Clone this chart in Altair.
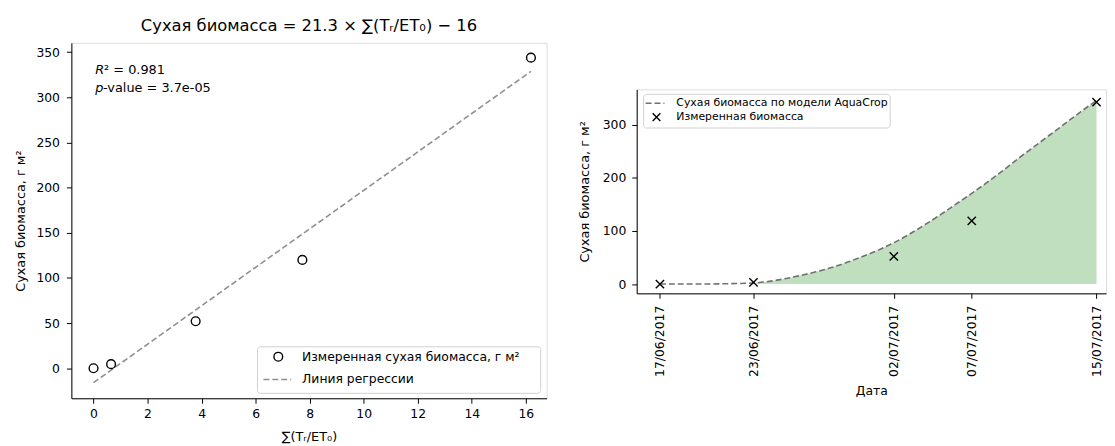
import altair as alt
import pandas as pd

FONT = "DejaVu Sans"

# ---------------- Left panel data ----------------
meas_x = [0.0, 0.65, 3.78, 7.73, 16.19]
meas_y = [0.0, 4.5, 52.0, 120.0, 344.0]
reg_x = [0.0, 16.19]
reg_y = [-16.0, 328.8]
left_xticks = [0, 2, 4, 6, 8, 10, 12, 14, 16]
left_yticks = [0, 50, 100, 150, 200, 250, 300, 350]
left_legend_labels = ["Измеренная сухая биомасса, г м²", "Линия регрессии"]

# ---------------- Right panel data ----------------
meas_dates = ["2017-06-17", "2017-06-23", "2017-07-02", "2017-07-07", "2017-07-15"]
meas_bio = [0.0, 3.0, 52.0, 119.0, 343.0]
model_dates = ["2017-06-17", "2017-06-19", "2017-06-21", "2017-06-23", "2017-06-24",
               "2017-06-25", "2017-06-26", "2017-06-27", "2017-06-28", "2017-06-29",
               "2017-06-30", "2017-07-01", "2017-07-02", "2017-07-03", "2017-07-04",
               "2017-07-05", "2017-07-06", "2017-07-07", "2017-07-08", "2017-07-09",
               "2017-07-10", "2017-07-11", "2017-07-12", "2017-07-13", "2017-07-14",
               "2017-07-15"]
model_bio = [0.0, 0.0, 0.5, 2.0, 5.0, 10.0, 16.0, 23.0, 31.0, 41.0, 52.0, 64.0, 78.0,
             94.0, 112.0, 131.0, 151.0, 171.0, 192.0, 214.0, 237.0, 259.0, 281.0,
             303.0, 325.0, 346.0]
fill_start = "2017-06-23"
right_yticks = [0, 100, 200, 300]
right_legend_labels = ["Сухая биомасса по модели AquaCrop", "Измеренная биомасса"]

ax_common = dict(grid=False, domainColor="black", tickColor="black", labelColor="black",
                 titleColor="black", labelFont=FONT, titleFont=FONT,
                 titleFontWeight="normal", tickSize=5)
one = pd.DataFrame({"k": [0]})
XSHAPE = "M-1,-1L1,1M-1,1L1,-1"

# ---------------- Left panel ----------------
LW, LH = 480, 359
meas_df = pd.DataFrame({"x": meas_x, "y": meas_y})
reg_df = pd.DataFrame({"x": reg_x, "y": reg_y})

xs = alt.Scale(domain=[-0.82, 16.77], nice=False, zero=False)
ys = alt.Scale(domain=[-33.3, 360.4], nice=False, zero=False)

x_left = alt.X("x:Q", scale=xs,
               axis=alt.Axis(values=left_xticks, title="∑(Tᵣ/ET₀)", labelFontSize=12.5,
                             titleFontSize=13, labelPadding=4, titlePadding=11, **ax_common))
y_left = alt.Y("y:Q", scale=ys,
               axis=alt.Axis(values=left_yticks, title="Сухая биомасса, г м²", labelFontSize=12.5,
                             titleFontSize=13, labelPadding=7, titlePadding=8, **ax_common))

reg_line = alt.Chart(reg_df).mark_line(color="#8f8f8f", strokeDash=[6, 3], strokeWidth=1.6).encode(
    x=x_left, y=y_left)
pts = alt.Chart(meas_df).mark_point(shape="circle", filled=False, color="black", size=78,
                                    strokeWidth=1.4, opacity=1).encode(x="x:Q", y="y:Q")


def txt(s, x, y, size, italic=False):
    kw = dict(font=FONT, fontSize=size, align="left", baseline="middle", color="black")
    if italic:
        kw["fontStyle"] = "italic"
    return alt.Chart(pd.DataFrame({"label": [s]})).mark_text(**kw).encode(
        text="label:N", x=alt.value(x), y=alt.value(y))


ann = [txt("R", 24, 27, 13, True), txt("² = 0.981", 33, 27, 13),
       txt("p", 24, 46, 13, True), txt("-value = 3.7e-05", 32, 46, 13)]

leg_box = alt.Chart(one).mark_rect(fill="white", fillOpacity=0.8, stroke="#d0d0d0",
                                   strokeWidth=1, cornerRadius=3).encode(
    x=alt.value(188), x2=alt.value(474), y=alt.value(307), y2=alt.value(354))
leg_pt = alt.Chart(one).mark_point(shape="circle", filled=False, color="black", size=78,
                                   strokeWidth=1.4, opacity=1).encode(
    x=alt.value(209), y=alt.value(317))
leg_ln = alt.Chart(one).mark_rule(color="#8f8f8f", strokeDash=[6, 3], strokeWidth=1.6).encode(
    x=alt.value(194), x2=alt.value(222), y=alt.value(340))
leg_t1 = txt(left_legend_labels[0], 233, 317, 12.5)
leg_t2 = txt(left_legend_labels[1], 233, 340, 12.5)

left = alt.layer(reg_line, pts, *ann, leg_box, leg_pt, leg_ln, leg_t1, leg_t2).properties(
    width=LW, height=LH,
    title=alt.Title("Сухая биомасса = 21.3 × ∑(Tᵣ/ET₀) − 16", font=FONT, fontSize=16.5,
                    fontWeight="normal", color="black", anchor="middle", offset=8))

# ---------------- Right panel ----------------
RW, RH = 474, 206
model_df = pd.DataFrame({"date": model_dates, "bio": model_bio})
fill_df = model_df[model_df["date"] >= fill_start]
mdf = pd.DataFrame({"date": meas_dates, "bio": meas_bio})


def dt(s, h=0, m=0):
    y, mo, d = [int(v) for v in s.split("-")]
    return alt.DateTime(year=y, month=mo, date=d, hours=h, minutes=m, utc=True)


ts = alt.Scale(type="utc", domain=[dt("2017-06-15", 12, 14), dt("2017-07-15", 14, 38)], nice=False)
ry = alt.Scale(domain=[-17.5, 367], nice=False, zero=False)

x_right = alt.X("date:T", scale=ts,
                axis=alt.Axis(values=[dt(s) for s in meas_dates],
                              labelExpr="utcFormat(datum.value, '%d/%m/%Y')",
                              labelAngle=270, labelFontSize=12.5,
                              title="Дата", titleFontSize=12.5, labelPadding=7,
                              titlePadding=8, **ax_common))
y_right = alt.Y("bio:Q", scale=ry,
                axis=alt.Axis(values=right_yticks, title="Сухая биомасса, г м²",
                              labelFontSize=12.5, titleFontSize=13, labelPadding=6,
                              titlePadding=11, **ax_common))

area = alt.Chart(fill_df).mark_area(color="green", opacity=0.25, interpolate="monotone").encode(
    x=x_right, y=y_right, y2=alt.datum(0))
mline = alt.Chart(model_df).mark_line(color="#707070", strokeDash=[6, 3], strokeWidth=1.6,
                                      interpolate="monotone").encode(x="date:T", y="bio:Q")
xmarks = alt.Chart(mdf).mark_point(shape=XSHAPE, filled=False, color="black",
                                   size=70, strokeWidth=1.4, opacity=1).encode(
    x="date:T", y="bio:Q")

rleg_box = alt.Chart(one).mark_rect(fill="white", fillOpacity=0.8, stroke="#d0d0d0",
                                    strokeWidth=1, cornerRadius=3).encode(
    x=alt.value(7), x2=alt.value(256), y=alt.value(5), y2=alt.value(39))
rleg_ln = alt.Chart(one).mark_rule(color="#707070", strokeDash=[6, 3], strokeWidth=1.6).encode(
    x=alt.value(9), x2=alt.value(28), y=alt.value(14))
rleg_pt = alt.Chart(one).mark_point(shape=XSHAPE, filled=False, color="black",
                                    size=60, strokeWidth=1.4, opacity=1).encode(
    x=alt.value(20), y=alt.value(28))
rleg_t1 = txt(right_legend_labels[0], 40, 14, 11)
rleg_t2 = txt(right_legend_labels[1], 40, 28, 11)

right = alt.layer(area, mline, xmarks, rleg_box, rleg_ln, rleg_pt, rleg_t1, rleg_t2).properties(
    width=RW, height=RH)

spacer = alt.Chart(one).mark_point(opacity=0, size=1).encode(
    x=alt.value(0), y=alt.value(0)).properties(
    width=RW, height=46, view=alt.ViewBackground(stroke=None))

right_col = alt.vconcat(spacer, right, spacing=0)

chart = alt.hconcat(left, right_col, spacing=30).properties(
    padding={"left": 6, "top": 8, "right": 0, "bottom": 0}).configure_view(
    stroke="black", strokeWidth=1).configure(background="white")

chart.save("out.html", embed_options={"renderer": "svg", "actions": False})
